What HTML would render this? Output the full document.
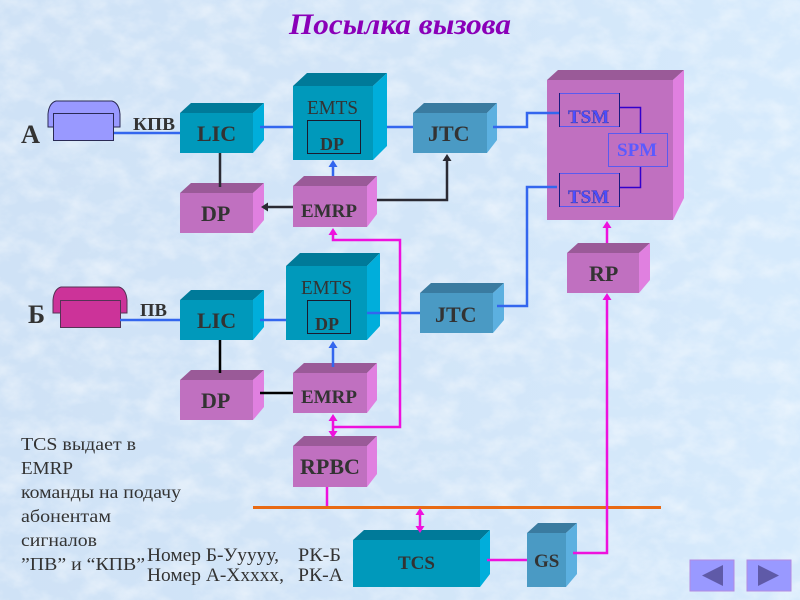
<!DOCTYPE html>
<html><head><meta charset="utf-8"><style>
html,body{margin:0;padding:0;width:800px;height:600px;overflow:hidden;background:#d6e8fa}
svg{display:block}
text{font-family:"Liberation Serif","Noto Serif CJK SC",serif;fill:#333}
.b{font-weight:bold}
</style></head><body>
<svg xmlns="http://www.w3.org/2000/svg" width="800" height="600" viewBox="0 0 800 600">
<defs>
<filter id="tex" x="0" y="0" width="100%" height="100%"><feTurbulence type="fractalNoise" baseFrequency="0.035 0.05" numOctaves="4" seed="7"/><feColorMatrix values="0 0 0 0 1  0 0 0 0 1  0 0 0 0 1  1.6 0 0 0 -0.62"/></filter>
<linearGradient id="bg" x1="0" y1="0" x2="1" y2="0"><stop offset="0" stop-color="#cfe2f6"/><stop offset="0.5" stop-color="#d2e5f8"/><stop offset="1" stop-color="#d6eafc"/></linearGradient>
</defs>
<rect width="800" height="600" fill="url(#bg)"/>
<rect width="800" height="600" filter="url(#tex)" opacity="0.55"/>

<text x="289" y="34" textLength="222" lengthAdjust="spacingAndGlyphs" style="font-weight:bold;font-style:italic;font-size:30px;fill:#8a00b8">Посылка вызова</text>

<!-- bus -->
<line x1="253" y1="507.5" x2="661" y2="507.5" stroke="#e86a14" stroke-width="3"/>

<!-- phones -->
<path d="M48 127V114Q49 103 56 101H112Q119 103 120 114V127Z" fill="#9999ff" stroke="#2a2a55"/>
<rect x="53.500" y="113.500" width="60" height="27" fill="#9999ff" stroke="#2a2a55"/>
<path d="M53 313V300Q54 289 61 287H119Q126 289 127 300V313Z" fill="#cc3399" stroke="#553355"/>
<rect x="60.500" y="300.500" width="60" height="27" fill="#cc3399" stroke="#553355"/>

<!-- boxes: teal -->
<g id="boxes">
<path d="M180 113L191 103H264L253 113Z" fill="#007a99"/><path d="M253 113L264 103V140L253 153Z" fill="#00aedb"/><rect x="180" y="113" width="73" height="40" fill="#0099bb"/>
<path d="M293 86L307 73H387L373 86Z" fill="#007a99"/><path d="M373 86L387 73V146L373 160Z" fill="#00aedb"/><rect x="293" y="86" width="80" height="74" fill="#0099bb"/>
<path d="M180 300L191 290H264L253 300Z" fill="#007a99"/><path d="M253 300L264 290V327L253 340Z" fill="#00aedb"/><rect x="180" y="300" width="73" height="40" fill="#0099bb"/>
<path d="M286 266L300 253H380L367 266Z" fill="#007a99"/><path d="M367 266L380 253V326L367 340Z" fill="#00aedb"/><rect x="286" y="266" width="81" height="74" fill="#0099bb"/>
<path d="M353 540L364 530H490L480 540Z" fill="#007a99"/><path d="M480 540L490 530V574L480 587Z" fill="#00aedb"/><rect x="353" y="540" width="127" height="47" fill="#0099bb"/>
<!-- steel -->
<path d="M413 113L424 103H497L487 113Z" fill="#3a7ba0"/><path d="M487 113L497 103V140L487 153Z" fill="#5cb0e0"/><rect x="413" y="113" width="74" height="40" fill="#4a9ac4"/>
<path d="M420 293L431 283H504L493 293Z" fill="#3a7ba0"/><path d="M493 293L504 283V320L493 333Z" fill="#5cb0e0"/><rect x="420" y="293" width="73" height="40" fill="#4a9ac4"/>
<path d="M527 533L538 523H577L566 533Z" fill="#3a7ba0"/><path d="M566 533L577 523V574L566 587Z" fill="#5cb0e0"/><rect x="527" y="533" width="39" height="54" fill="#4a9ac4"/>
<!-- purple -->
<path d="M180 193L191 183H264L253 193Z" fill="#9a5a98"/><path d="M253 193L264 183V220L253 233Z" fill="#e080e0"/><rect x="180" y="193" width="73" height="40" fill="#c070c0"/>
<path d="M293 186L304 176H377L367 186Z" fill="#9a5a98"/><path d="M367 186L377 176V214L367 227Z" fill="#e080e0"/><rect x="293" y="186" width="74" height="41" fill="#c070c0"/>
<path d="M180 380L191 370H264L253 380Z" fill="#9a5a98"/><path d="M253 380L264 370V407L253 420Z" fill="#e080e0"/><rect x="180" y="380" width="73" height="40" fill="#c070c0"/>
<path d="M293 373L304 363H377L367 373Z" fill="#9a5a98"/><path d="M367 373L377 363V400L367 413Z" fill="#e080e0"/><rect x="293" y="373" width="74" height="40" fill="#c070c0"/>
<path d="M293 446L304 436H377L367 446Z" fill="#9a5a98"/><path d="M367 446L377 436V474L367 487Z" fill="#e080e0"/><rect x="293" y="446" width="74" height="41" fill="#c070c0"/>
<path d="M547 80L558 70H684L673 80Z" fill="#9a5a98"/><path d="M673 80L684 70V198L673 220Z" fill="#e080e0"/><rect x="547" y="80" width="126" height="140" fill="#c070c0"/>
<path d="M567 253L578 243H650L639 253Z" fill="#9a5a98"/><path d="M639 253L650 243V280L639 293Z" fill="#e080e0"/><rect x="567" y="253" width="72" height="40" fill="#c070c0"/>
</g>

<!-- inner rects -->
<rect x="307.500" y="120.500" width="53" height="33" fill="none" stroke="#1a1a2e"/>
<rect x="307.500" y="300.500" width="43" height="33" fill="none" stroke="#1a1a2e"/>
<g fill="none" stroke="#5a5af0">
<path d="M559 93.500H619M559 126.500H619M559 173.500H619M559 206.500H619"/>
<rect x="608.500" y="133.500" width="59" height="33"/>
</g>
<path d="M559.500 93V127M619.500 93V127M559.500 173V207M619.500 173V207" stroke="#1a1a80" fill="none"/>
<path d="M620 107.500H640.500V133M640.500 167V187.500H620" stroke="#3300cc" stroke-width="1.500" fill="none"/>

<!-- blue connectors -->
<g fill="none" stroke="#3366ee" stroke-width="2.5">
<path d="M114 133H180"/><path d="M260 127H293"/><path d="M387 127H413"/>
<path d="M493 127H527V113H559"/><path d="M497 306H527V187H557"/>
<path d="M120 320H180"/><path d="M260 320H286"/><path d="M367 313H420"/>
<path d="M333 176V165"/><path d="M333 367V345"/>
</g>
<path d="M333 160L337.500 167H328.500Z M333 341L337.500 348H328.500Z" fill="#3366ee"/>

<!-- black connectors -->
<g fill="none" stroke="#2a2a33" stroke-width="2.5">
<path d="M220 153V187"/><path d="M293 207H267"/><path d="M377 200H447V158"/>
</g>
<path d="M261 207L268 202.500V211.500Z M447 154L451.500 161H442.500Z" fill="#2a2a33"/>
<path d="M220 340V373M260 393H293" stroke="#000" stroke-width="2.5" fill="none"/>

<!-- magenta connectors -->
<g fill="none" stroke="#ee11dd" stroke-width="2.500">
<path d="M333 234V240H400V427H333"/><path d="M333 419V434"/>
<path d="M607 243V226"/><path d="M573 553H607V298"/>
<path d="M327 487V506"/><path d="M420 513V528"/><path d="M487 560H527"/>
</g>
<path d="M333 228L337.500 235H328.500Z M333 414L337.500 421H328.500Z M333 438L337.500 431H328.500Z M607 221L611.500 228H602.500Z M607 293L611.500 300H602.500Z M420 508L424.500 515H415.500Z M420 533L424.500 526H415.500Z" fill="#ee11dd"/>

<!-- labels -->
<g class="b">
<text x="21" y="143" font-size="26" class="b" textLength="19" lengthAdjust="spacingAndGlyphs">А</text>
<text x="28" y="323" font-size="26" class="b" textLength="17" lengthAdjust="spacingAndGlyphs">Б</text>
<text x="133" y="130" font-size="18" class="b" textLength="42" lengthAdjust="spacingAndGlyphs">КПВ</text>
<text x="140" y="316" font-size="18" class="b" textLength="27" lengthAdjust="spacingAndGlyphs">ПВ</text>
<text x="197" y="141" font-size="22" class="b">LIC</text>
<text x="197" y="328" font-size="22" class="b">LIC</text>
<text x="201" y="221" font-size="22" class="b">DP</text>
<text x="201" y="408" font-size="22" class="b">DP</text>
<text x="320" y="150" font-size="18" class="b">DP</text>
<text x="315" y="330" font-size="18" class="b">DP</text>
<text x="301" y="217" font-size="19" class="b" textLength="56" lengthAdjust="spacingAndGlyphs">EMRP</text>
<text x="301" y="403" font-size="19" class="b" textLength="56" lengthAdjust="spacingAndGlyphs">EMRP</text>
<text x="428" y="141" font-size="22" class="b">JTC</text>
<text x="435" y="322" font-size="22" class="b">JTC</text>
<text x="300" y="474" font-size="22" class="b">RPBC</text>
<text x="589" y="281" font-size="22" class="b">RP</text>
<text x="398" y="569" font-size="19" class="b">TCS</text>
<text x="534" y="567" font-size="19" class="b">GS</text>
<text x="568" y="123" font-size="19" class="b" style="fill:#4d4dff;stroke:#33337a;stroke-width:.3">TSM</text>
<text x="568" y="203" font-size="19" class="b" style="fill:#4d4dff;stroke:#33337a;stroke-width:.3">TSM</text>
<text x="617" y="156" font-size="19" class="b" style="fill:#5a5aff">SPM</text>
</g>
<text x="307" y="114" font-size="20" textLength="51" lengthAdjust="spacingAndGlyphs">EMTS</text>
<text x="301" y="294" font-size="20" textLength="51" lengthAdjust="spacingAndGlyphs">EMTS</text>

<text x="21" y="450" font-size="18" textLength="115" lengthAdjust="spacingAndGlyphs">TCS выдает в</text>
<text x="21" y="474" font-size="18" textLength="52" lengthAdjust="spacingAndGlyphs">EMRP</text>
<text x="21" y="498" font-size="18" textLength="160" lengthAdjust="spacingAndGlyphs">команды на подачу</text>
<text x="21" y="522" font-size="18" textLength="90" lengthAdjust="spacingAndGlyphs">абонентам</text>
<text x="21" y="546" font-size="18" textLength="76" lengthAdjust="spacingAndGlyphs">сигналов</text>
<text x="21" y="570" font-size="18" textLength="124" lengthAdjust="spacingAndGlyphs">”ПВ” и “КПВ”</text>
<text x="147" y="561" font-size="19" textLength="132" lengthAdjust="spacingAndGlyphs">Номер Б-Ууууу,</text>
<text x="147" y="581" font-size="19" textLength="137" lengthAdjust="spacingAndGlyphs">Номер А-Ххххх,</text>
<text x="298" y="561" font-size="19" textLength="43" lengthAdjust="spacingAndGlyphs">РК-Б</text>
<text x="298" y="581" font-size="19" textLength="45" lengthAdjust="spacingAndGlyphs">РК-А</text>

<!-- nav -->
<rect x="690" y="560" width="44" height="31" fill="#9999ff" stroke="#b38ae0"/>
<path d="M702 575.500L723 565V586Z" fill="#5f5aa8"/>
<rect x="747" y="560" width="44" height="31" fill="#9999ff" stroke="#b38ae0"/>
<path d="M779 575.500L758 565V586Z" fill="#5f5aa8"/>
</svg>
</body></html>
